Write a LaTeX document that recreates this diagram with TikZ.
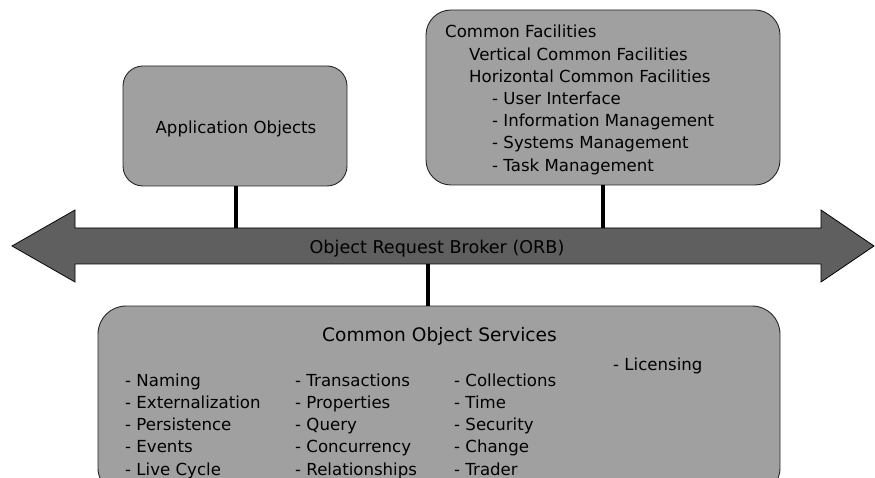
\documentclass[tikz,border=0pt]{standalone}
\usepackage{fontspec}
\setmainfont{DejaVu Sans}
\definecolor{boxgray}{RGB}{160,160,160}
\definecolor{orbgray}{RGB}{95,95,95}
\begin{document}
\begin{tikzpicture}[x=1pt,y=-1pt,
  box/.style={draw=black!85, line width=0.9pt, fill=boxgray, inner sep=0pt},
  txt/.style={anchor=base west, inner sep=0pt, font=\fontsize{16.6}{19}\selectfont},
  bigtxt/.style={inner sep=0pt, font=\fontsize{18.6}{22}\selectfont},
  conn/.style={line width=4pt, black}]
\useasboundingbox (0,0) rectangle (875,478);
% ORB arrow
\draw[fill=orbgray, draw=black, line width=0.8pt]
  (12,246) -- (75,210) -- (75,228) -- (821,228) -- (821,210) -- (874,246)
  -- (821,282) -- (821,264) -- (75,264) -- (75,282) -- cycle;
\node[bigtxt, anchor=base, font=\fontsize{17.6}{22}\selectfont] (orb) at (437,254) {Object Request Broker (ORB)};
\coordinate (orbA) at (236,228);
\coordinate (orbF) at (603,228);
\coordinate (orbS) at (428,264);
% Application objects
\node[box, rounded corners=20pt, minimum width=224pt, minimum height=120pt] (app) at (235,126) {};
\node[txt, anchor=base] (apptxt) at (236,134) {Application Objects};
% Common facilities
\node[box, rounded corners=25pt, minimum width=354pt, minimum height=175pt] (fac) at (603,97.5) {};
\node[txt] (f1) at (445,38) {Common Facilities};
\node[txt] (f2) at (469,60.2) {Vertical Common Facilities};
\node[txt] (f3) at (469,82.4) {Horizontal Common Facilities};
\node[txt] (f4) at (492,104.6) {- User Interface};
\node[txt] (f5) at (492,126.8) {- Information Management};
\node[txt] (f6) at (492,149) {- Systems Management};
\node[txt] (f7) at (492,171.2) {- Task Management};
% Common object services
\node[box, rounded corners=28pt, minimum width=682pt, minimum height=190pt] (cos) at (439,401) {};
\node[bigtxt, anchor=base] (costitle) at (439.5,341) {Common Object Services};
\foreach \t [count=\i from 0] in {- Naming, - Externalization, - Persistence, - Events, - Live Cycle}
  \node[txt] (c1\i) at (125,386+22.3*\i) {\t};
\foreach \t [count=\i from 0] in {- Transactions, - Properties, - Query, - Concurrency, - Relationships}
  \node[txt] (c2\i) at (295,386+22.3*\i) {\t};
\foreach \t [count=\i from 0] in {- Collections, - Time, - Security, - Change, - Trader}
  \node[txt] (c3\i) at (454,386+22.3*\i) {\t};
\node[txt] (c4) at (613,370) {- Licensing};
% connectors
\draw[conn] (app.south -| orbA) -- (orbA);
\draw[conn] (fac.south -| orbF) -- (orbF);
\draw[conn] (orbS) -- (cos.north -| orbS);
\end{tikzpicture}
\end{document}
